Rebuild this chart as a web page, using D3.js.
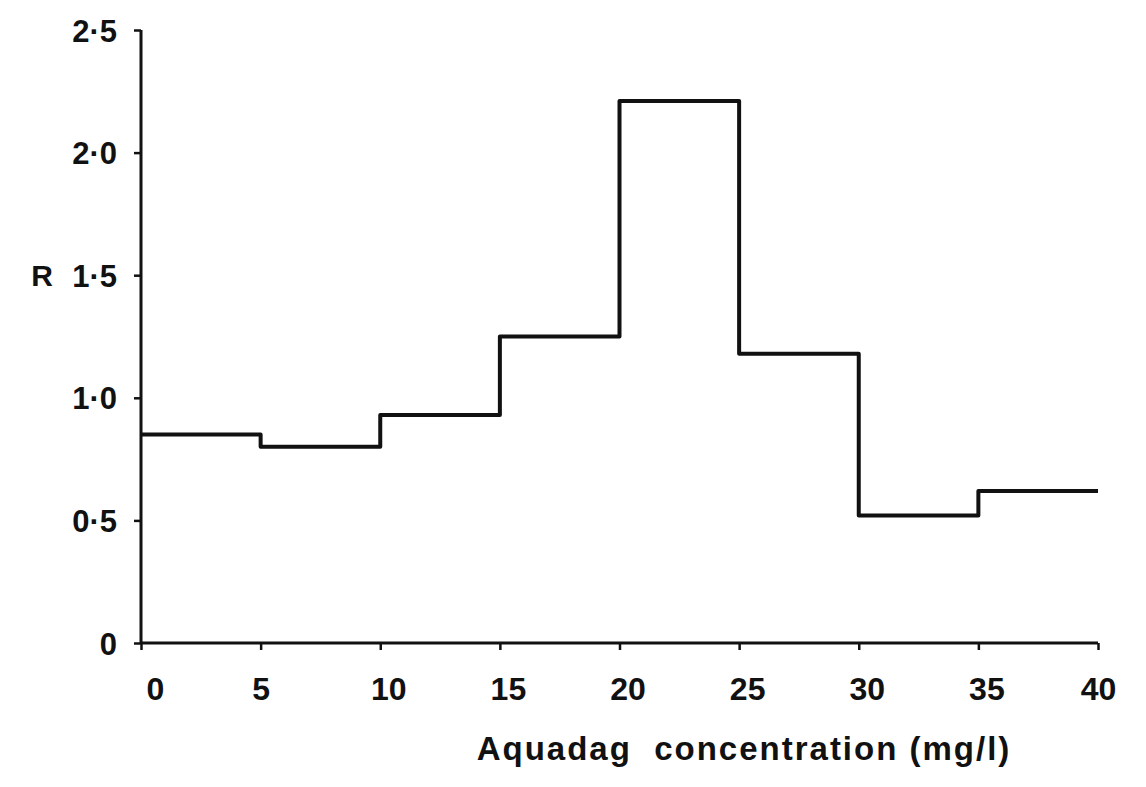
<!DOCTYPE html>
<html>
<head>
<meta charset="utf-8">
<script src="https://cdn.jsdelivr.net/npm/d3@7"></script>
<style>
  body { margin: 0; background: #fff; }
  text { font-family: "Liberation Sans", Arial, sans-serif; font-weight: bold; fill: #111; }
</style>
</head>
<body>
<div id="chart"></div>
<script>
// Bin edges (mg/l) and R value for each 5 mg/l bin
const binStart = [0, 5, 10, 15, 20, 25, 30, 35];
const binEnd   = [5, 10, 15, 20, 25, 30, 35, 40];
const rValues  = [0.85, 0.80, 0.93, 1.25, 2.21, 1.18, 0.52, 0.62];

const xTicks = [0, 5, 10, 15, 20, 25, 30, 35, 40];
const yTicks = [0, 0.5, 1.0, 1.5, 2.0, 2.5];
const yTickLabels = ["0", "0·5", "1·0", "1·5", "2·0", "2·5"];

const W = 1146, H = 787;
const margin = {top: 30, right: 48, bottom: 143, left: 141};

const svg = d3.select("#chart")
  .append("svg")
    .attr("width", W)
    .attr("height", H);

const x = d3.scaleLinear()
  .domain([0, 40])
  .range([margin.left, W - margin.right]);

const y = d3.scaleLinear()
  .domain([0, 2.5])
  .range([H - margin.bottom - 1, margin.top]);

// Y axis
const yAxis = svg.append("g")
  .attr("transform", `translate(${margin.left},0)`)
  .call(d3.axisLeft(y)
    .tickValues(yTicks)
    .tickSize(7)
    .tickPadding(17)
    .tickFormat((d, i) => yTickLabels[i]));
yAxis.attr("font-size", null).attr("font-family", null);
yAxis.select(".domain").attr("stroke", "#111").attr("stroke-width", 3).attr("d", `M0,${y(0)}V${y(2.5)}`);
yAxis.selectAll(".tick line").attr("stroke", "#111").attr("stroke-width", 2.5);
yAxis.selectAll(".tick text")
  .style("font-size", "31px")
  .attr("fill", "#111")
  .attr("dy", "0.36em");

// X axis
const xAxis = svg.append("g")
  .attr("transform", `translate(0,${y(0)})`)
  .call(d3.axisBottom(x)
    .tickValues(xTicks)
    .tickSize(7)
    .tickPadding(27)
    .tickFormat(d3.format("d")));
xAxis.attr("font-size", null).attr("font-family", null);
xAxis.select(".domain").attr("stroke", "#111").attr("stroke-width", 3).attr("d", `M${x(0)},0H${x(40)}`);
xAxis.selectAll(".tick line").attr("stroke", "#111").attr("stroke-width", 2.5);
xAxis.selectAll(".tick text")
  .style("font-size", "32px")
  .attr("fill", "#111")
  .attr("dx", d => d === 0 ? 14 : (d === 5 || d === 40 ? 0 : 8));

// Step outline of the histogram
const pts = [];
binStart.forEach((s, i) => {
  pts.push([s, rValues[i]]);
  pts.push([binEnd[i], rValues[i]]);
});
const line = d3.line()
  .x(d => x(d[0]))
  .y(d => y(d[1]));

svg.append("path")
  .datum(pts)
  .attr("d", line)
  .attr("fill", "none")
  .attr("stroke", "#111")
  .attr("stroke-width", 4)
  .attr("stroke-linejoin", "round");

// axis titles
svg.append("text")
  .attr("x", 42)
  .attr("y", y(1.5) + 11)
  .attr("text-anchor", "middle")
  .style("font-size", "30px")
  .text("R");

svg.append("text")
  .attr("x", 744)
  .attr("y", 760)
  .attr("text-anchor", "middle")
  .style("font-size", "33px")
  .style("white-space", "pre")
  .attr("letter-spacing", 2)
  .text("Aquadag  concentration (mg/l)");
</script>
</body>
</html>
